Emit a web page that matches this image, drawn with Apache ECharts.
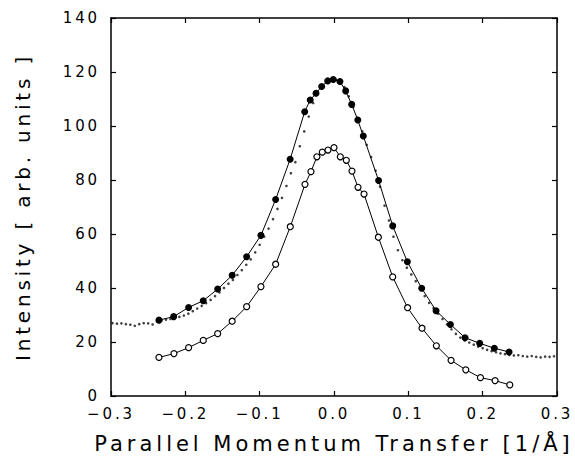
<!DOCTYPE html>
<html>
<head>
<meta charset="utf-8">
<script src="https://cdn.jsdelivr.net/npm/echarts@6.0.0/dist/echarts.min.js"></script>
<style>
  html, body { margin: 0; padding: 0; background: #fff; }
  #chart { width: 575px; height: 473px; }
  /* the original uses a wide, loosely spaced font */
  #chart text { letter-spacing: 0.19em; }
</style>
</head>
<body>
<div id="chart"></div>
<script>
// filled circles (upper curve)
var filledX = [-0.2355, -0.2157, -0.1956, -0.1759, -0.1565, -0.137, -0.1175, -0.0983, -0.0785, -0.059,
  -0.0394, -0.032, -0.0242, -0.0166, -0.0085, -0.001, 0.008, 0.0157, 0.0238, 0.032, 0.0394,
  0.06, 0.079, 0.0987, 0.118, 0.1373, 0.1566, 0.1763, 0.196, 0.2157, 0.2355]
var filledY = [28.1, 29.4, 32.8, 35.3, 39.6, 44.7, 51.6, 59.5, 72.8, 87.7,
  105.3, 109.6, 112.1, 114.6, 116.7, 117.2, 116.5, 113, 108, 102.2, 96.3,
  79.8, 63, 49.7, 39.9, 31.6, 26.5, 21.6, 19.5, 17.7, 16.3]

// open circles (lower curve)
var openX = [-0.2355, -0.2153, -0.1956, -0.1759, -0.1565, -0.137, -0.1175, -0.0983, -0.0785, -0.0588,
  -0.039, -0.031, -0.023, -0.0157, -0.0081, 0.0, 0.0085, 0.0166, 0.0242, 0.0323, 0.0404,
  0.0597, 0.079, 0.099, 0.1184, 0.1377, 0.1575, 0.1773, 0.197, 0.2167, 0.2365]
var openY = [14.3, 15.7, 17.9, 20.6, 23.1, 27.7, 33.1, 40.5, 48.8, 62.7,
  78.4, 83.1, 88.6, 90.3, 91.1, 92.0, 88.6, 87.3, 83.3, 77.3, 74.8,
  58.8, 44.1, 32.7, 25.1, 18.6, 13.2, 9.7, 6.8, 5.7, 4.1]

// small dots (measured profile)
var dotX = [-0.298, -0.292, -0.286, -0.28, -0.274, -0.268, -0.262, -0.256, -0.25, -0.244,
  -0.238, -0.232, -0.226, -0.22, -0.214, -0.208, -0.202, -0.196, -0.19, -0.184,
  -0.178, -0.172, -0.166, -0.16, -0.154, -0.148, -0.142, -0.136, -0.13, -0.124,
  -0.118, -0.112, -0.106, -0.1, -0.094, -0.088, -0.082, -0.076, -0.07, -0.064,
  -0.058, -0.052, -0.046, -0.04, -0.034, -0.028, -0.022, -0.016, -0.01, -0.004,
  0.002, 0.008, 0.014, 0.02, 0.026, 0.032, 0.038, 0.044, 0.05, 0.056,
  0.062, 0.068, 0.074, 0.08, 0.086, 0.092, 0.098, 0.104, 0.11, 0.116,
  0.122, 0.128, 0.134, 0.14, 0.146, 0.152, 0.158, 0.164, 0.17, 0.176,
  0.182, 0.188, 0.194, 0.2, 0.206, 0.212, 0.218, 0.224, 0.23, 0.236,
  0.242, 0.248, 0.254, 0.26, 0.266, 0.272, 0.278, 0.284, 0.29, 0.296]
var dotY = [27.0, 26.8, 26.9, 26.6, 26.4, 26.0, 26.6, 27.0, 26.9, 26.5,
  27.6, 28.0, 28.3, 28.5, 28.8, 29.3, 29.8, 30.5, 31.4, 32.4,
  33.4, 34.4, 35.6, 37.0, 38.4, 40.0, 41.6, 43.0, 44.8, 46.6,
  48.6, 50.6, 53.2, 56.0, 59.0, 62.0, 65.5, 69.3, 73.4, 77.8,
  82.5, 86.6, 92.5, 98.0, 103.5, 108.5, 112.0, 114.6, 116.2, 117.2,
  117.3, 116.6, 114.4, 111.0, 107.0, 103.0, 98.0, 93.0, 88.5, 83.5,
  77.5, 70.5, 65.0, 59.0, 54.0, 50.3, 47.5, 45.0, 42.5, 40.0,
  37.0, 34.5, 32.5, 30.5, 28.5, 26.5, 24.7, 23.0, 21.6, 20.6,
  19.8, 19.0, 18.3, 17.7, 17.1, 16.6, 16.2, 15.8, 15.5, 15.2,
  15.0, 15.1, 14.8, 14.6, 14.8, 14.5, 14.3, 14.6, 14.5, 14.7]

var xMin = -0.3, xMax = 0.3, xStep = 0.1
var yMin = 0, yMax = 140, yStep = 20

function pairs(xs, ys) {
  return xs.map(function (x, i) { return [x, ys[i]] })
}

var font = 'DejaVu Sans'
var tick = { show: true, inside: true, length: 5, lineStyle: { color: '#000', width: 1.2 } }
var line = { show: true, onZero: false, lineStyle: { color: '#000', width: 1.5 } }

var chart = echarts.init(document.getElementById('chart'), null, { renderer: 'svg' })
chart.setOption({
  animation: false,
  backgroundColor: '#fff',
  grid: { left: 111, right: 18, top: 18, bottom: 77, outerBoundsMode: 'none' },
  xAxis: [{
    type: 'value',
    min: xMin, max: xMax, interval: xStep,
    name: 'Parallel Momentum Transfer [1/\u00c5]',
    nameLocation: 'middle',
    nameGap: 37,
    nameTextStyle: { fontFamily: font, fontSize: 21, color: '#000' },
    axisLine: line,
    axisTick: tick,
    splitLine: { show: false },
    axisLabel: {
      margin: 11,
      fontFamily: font, fontSize: 15, color: '#000', lineHeight: 14,
      formatter: function (v) {
        return v < 0 ? '\u2212' + Math.abs(v).toFixed(1) : v.toFixed(1)
      }
    }
  }, {
    type: 'value', position: 'top',
    min: xMin, max: xMax, interval: xStep,
    axisLine: line, axisTick: tick,
    axisLabel: { show: false }, splitLine: { show: false }
  }],
  yAxis: [{
    type: 'value',
    min: yMin, max: yMax, interval: yStep,
    name: 'Intensity [ arb. units ]',
    nameLocation: 'middle',
    nameGap: 78,
    nameTextStyle: { fontFamily: font, fontSize: 20, color: '#000' },
    axisLine: line,
    axisTick: tick,
    splitLine: { show: false },
    axisLabel: { margin: 11, fontFamily: font, fontSize: 15, color: '#000', lineHeight: 12 }
  }, {
    type: 'value', position: 'right',
    min: yMin, max: yMax, interval: yStep,
    axisLine: line, axisTick: tick,
    axisLabel: { show: false }, splitLine: { show: false }
  }],
  series: [{
    type: 'scatter',
    data: pairs(dotX, dotY),
    symbol: 'circle',
    symbolSize: 2.6,
    itemStyle: { color: '#111' },
    z: 1
  }, {
    type: 'line',
    data: pairs(filledX, filledY),
    symbol: 'circle',
    symbolSize: 7,
    itemStyle: { color: '#000', borderColor: '#000', borderWidth: 0 },
    lineStyle: { color: '#000', width: 1 },
    z: 2
  }, {
    type: 'line',
    data: pairs(openX, openY),
    symbol: 'circle',
    symbolSize: 6,
    itemStyle: { color: '#fff', borderColor: '#000', borderWidth: 1.2 },
    lineStyle: { color: '#000', width: 1 },
    z: 3
  }]
})
</script>
</body>
</html>
